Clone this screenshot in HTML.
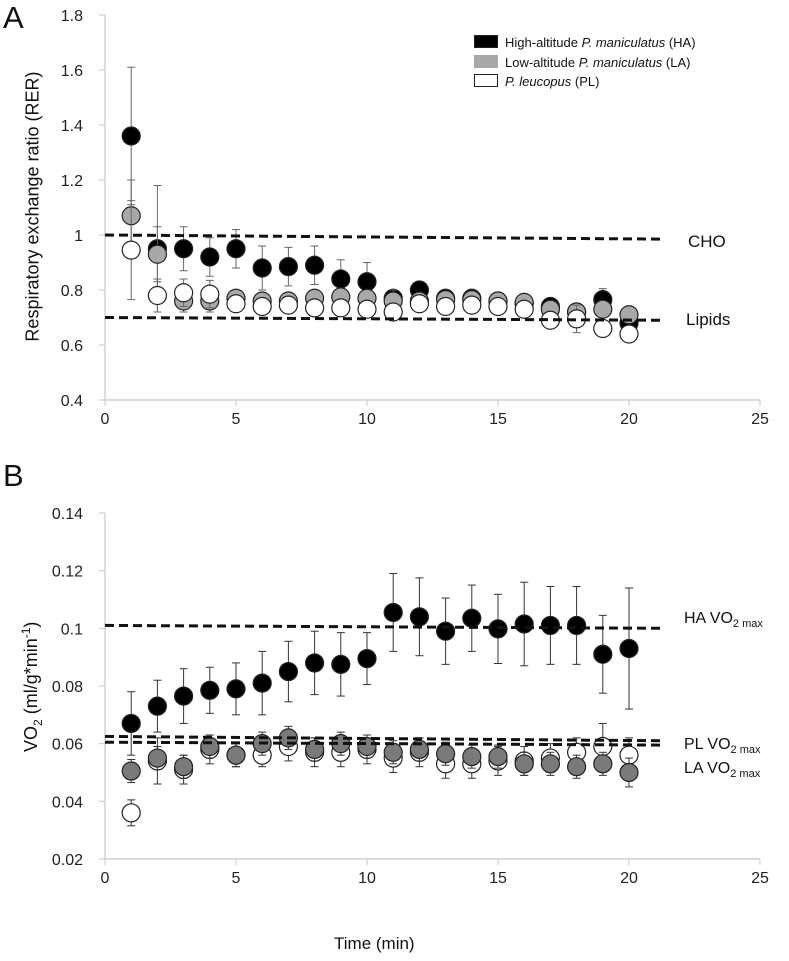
<!DOCTYPE html>
<html><head><meta charset="utf-8"><style>
body{margin:0;background:#fff;}
svg{display:block;font-family:"Liberation Sans",sans-serif;}
</style></head><body>
<svg id="c" width="789" height="961" viewBox="0 0 789 961"></svg>
<script>
const times=[1,2,3,4,5,6,7,8,9,10,11,12,13,14,15,16,17,18,19,20];
const rerHA=[1.36,0.95,0.95,0.92,0.95,0.88,0.885,0.89,0.84,0.83,0.77,0.80,0.77,0.77,0.76,0.75,0.74,0.72,0.765,0.68];
const rerHAerr=[0.25,0.23,0.08,0.07,0.07,0.08,0.07,0.07,0.07,0.07,0.03,0.03,0.03,0.03,0.03,0.03,0.03,0.03,0.04,0.03];
const rerLA=[1.07,0.93,0.76,0.76,0.77,0.76,0.76,0.77,0.775,0.77,0.76,0.76,0.765,0.765,0.76,0.755,0.73,0.72,0.73,0.71];
const rerLAerr=[0.13,0.10,0.04,0.04,0.03,0.03,0.03,0.03,0.03,0.03,0.04,0.03,0.03,0.03,0.03,0.03,0.03,0.03,0.03,0.03];
const rerPL=[0.945,0.78,0.79,0.785,0.75,0.74,0.745,0.735,0.735,0.73,0.72,0.75,0.74,0.745,0.74,0.73,0.69,0.695,0.66,0.64];
const rerPLerr=[0.18,0.06,0.05,0.05,0.03,0.03,0.03,0.03,0.03,0.03,0.03,0.03,0.03,0.03,0.03,0.03,0.03,0.05,0.03,0.03];
const vHA=[0.067,0.073,0.0765,0.0785,0.079,0.081,0.085,0.088,0.0875,0.0895,0.1055,0.104,0.099,0.1035,0.0998,0.1015,0.101,0.101,0.091,0.093];
const vHAerr=[0.011,0.009,0.0095,0.008,0.009,0.011,0.0105,0.011,0.011,0.009,0.0135,0.0135,0.0115,0.0115,0.012,0.0145,0.0135,0.0135,0.0135,0.021];
const vLA=[0.0505,0.055,0.052,0.059,0.056,0.060,0.062,0.058,0.060,0.059,0.057,0.058,0.0565,0.0555,0.0555,0.053,0.053,0.052,0.053,0.050];
const vLAerr=[0.004,0.004,0.004,0.004,0.004,0.004,0.004,0.004,0.004,0.004,0.004,0.004,0.004,0.004,0.004,0.004,0.004,0.004,0.004,0.005];
const vPL=[0.036,0.054,0.051,0.058,0.056,0.056,0.059,0.057,0.057,0.058,0.055,0.057,0.053,0.053,0.054,0.054,0.055,0.057,0.059,0.056];
const vPLerr=[0.0045,0.008,0.005,0.005,0.004,0.004,0.005,0.005,0.005,0.005,0.005,0.005,0.005,0.005,0.005,0.005,0.005,0.005,0.008,0.006];
const xTicks=[0,5,10,15,20,25];
const rerTicks=[0.4,0.6,0.8,1,1.2,1.4,1.6,1.8];
const vTicks=[0.02,0.04,0.06,0.08,0.1,0.12,0.14];
const rerRefs=[[1.0,0.985],[0.70,0.69]];
const vRefs=[[0.101,0.100],[0.0625,0.061],[0.0605,0.0595]];

const NS="http://www.w3.org/2000/svg";
const svg=document.getElementById('c');
function el(t,a,txt){const e=document.createElementNS(NS,t);for(const k in a)e.setAttribute(k,a[k]);if(txt!==undefined)e.textContent=txt;svg.appendChild(e);return e;}
const X=t=>105+t*26.2;
const YA=v=>15+(1.8-v)*275;
const YB=v=>513+(0.14-v)*2883;

function axes(Y,ticks,yBot,name){
  let a=el('line',{x1:105,y1:Y(ticks[ticks.length-1]),x2:105,y2:yBot,stroke:'#c8c8c8','stroke-width':1.2});
  
  
  let b=el('line',{x1:105,y1:yBot,x2:X(25),y2:yBot,stroke:'#c8c8c8','stroke-width':1.2});
  
  
  ticks.forEach(v=>{
    el('line',{x1:99,y1:Y(v),x2:105,y2:Y(v),stroke:'#c8c8c8'});
    const t=el('text',{x:83,y:Y(v)+6,'text-anchor':'end','font-size':16,fill:'#222'},String(v));
    
    
  });
  xTicks.forEach(v=>{
    el('line',{x1:X(v),y1:yBot,x2:X(v),y2:yBot+6,stroke:'#c8c8c8'});
    const t=el('text',{x:X(v),y:yBot+24,'text-anchor':'middle','font-size':16,fill:'#222'},String(v));
    
    
  });
}
axes(YA,rerTicks,400,'rer');
axes(YB,vTicks,859,'vo2');

function ref(Y,a,b,name){
  const l=el('line',{x1:X(0),y1:Y(a),x2:X(21.3),y2:Y(b),stroke:'#111','stroke-width':3,'stroke-dasharray':'9,5'});
  
  
}

function series(Y,vals,errs,fill,ec,name){
  vals.forEach((v,i)=>{
    const x=X(times[i]),y1=Y(v+errs[i]),y2=Y(v-errs[i]);
    el('line',{x1:x,y1:y1,x2:x,y2:y2,stroke:ec,'stroke-width':1});
    el('line',{x1:x-4,y1:y1,x2:x+4,y2:y1,stroke:ec,'stroke-width':1});
    el('line',{x1:x-4,y1:y2,x2:x+4,y2:y2,stroke:ec,'stroke-width':1});
  });
  vals.forEach((v,i)=>{
    const c=el('circle',{cx:X(times[i]),cy:Y(v),r:9,fill:fill,stroke:'#222','stroke-width':1.2});
    
    
  });
}
series(YA,rerHA,rerHAerr,'#000','#666','rer-ha');
series(YA,rerLA,rerLAerr,'#a8a8a8','#666','rer-la');
series(YA,rerPL,rerPLerr,'#fff','#666','rer-pl');
rerRefs.forEach((r,i)=>ref(YA,r[0],r[1],i?'lipids-line':'cho-line'));
series(YB,vHA,vHAerr,'#000','#333','vo2-ha');
series(YB,vPL,vPLerr,'#fff','#333','vo2-pl');
series(YB,vLA,vLAerr,'#7a7a7a','#333','vo2-la');
vRefs.forEach((r,i)=>ref(YB,r[0],r[1],['ha-vo2max-line','pl-vo2max-line','la-vo2max-line'][i]));
</script>
<div style="position:absolute;left:0;top:0;width:789px;height:961px;font-family:'Liberation Sans',sans-serif;color:#111;pointer-events:none">
<div style="position:absolute;left:3px;top:0px;font-size:31px">A</div>
<div style="position:absolute;left:3px;top:458px;font-size:31px">B</div>
<div style="position:absolute;left:-122px;top:196px;width:310px;text-align:center;transform:rotate(-90deg);font-size:18px">Respiratory exchange ratio (RER)</div>
<div style="position:absolute;left:-88px;top:674px;width:240px;text-align:center;transform:rotate(-90deg);font-size:18px">VO<sub style="font-size:12px">2</sub> (ml/g*min<sup style="font-size:12px">-1</sup>)</div>
<div style="position:absolute;left:334px;top:934px;font-size:17px">Time (min)</div>
<div style="position:absolute;left:688px;top:232px;font-size:17px">CHO</div>
<div style="position:absolute;left:686px;top:310px;font-size:17px">Lipids</div>
<div style="position:absolute;left:684px;top:610px;font-size:16px">HA VO<sub style="font-size:11px">2 max</sub></div>
<div style="position:absolute;left:684px;top:736px;font-size:16px">PL VO<sub style="font-size:11px">2 max</sub></div>
<div style="position:absolute;left:684px;top:760px;font-size:16px">LA VO<sub style="font-size:11px">2 max</sub></div>
<div style="position:absolute;left:474px;top:33px;font-size:13px;line-height:19.5px">
 <div><span style="display:inline-block;width:22px;height:11px;background:#000;border:1px solid #222;vertical-align:-1px;margin-right:7px"></span>High-altitude <i>P. maniculatus</i> (HA)</div>
 <div><span style="display:inline-block;width:22px;height:11px;background:#a8a8a8;border:1px solid #a8a8a8;vertical-align:-1px;margin-right:7px"></span>Low-altitude <i>P. maniculatus</i> (LA)</div>
 <div><span style="display:inline-block;width:22px;height:11px;background:#fff;border:1px solid #222;vertical-align:-1px;margin-right:7px"></span><i>P. leucopus</i> (PL)</div>
</div>
</div>
</body></html>
